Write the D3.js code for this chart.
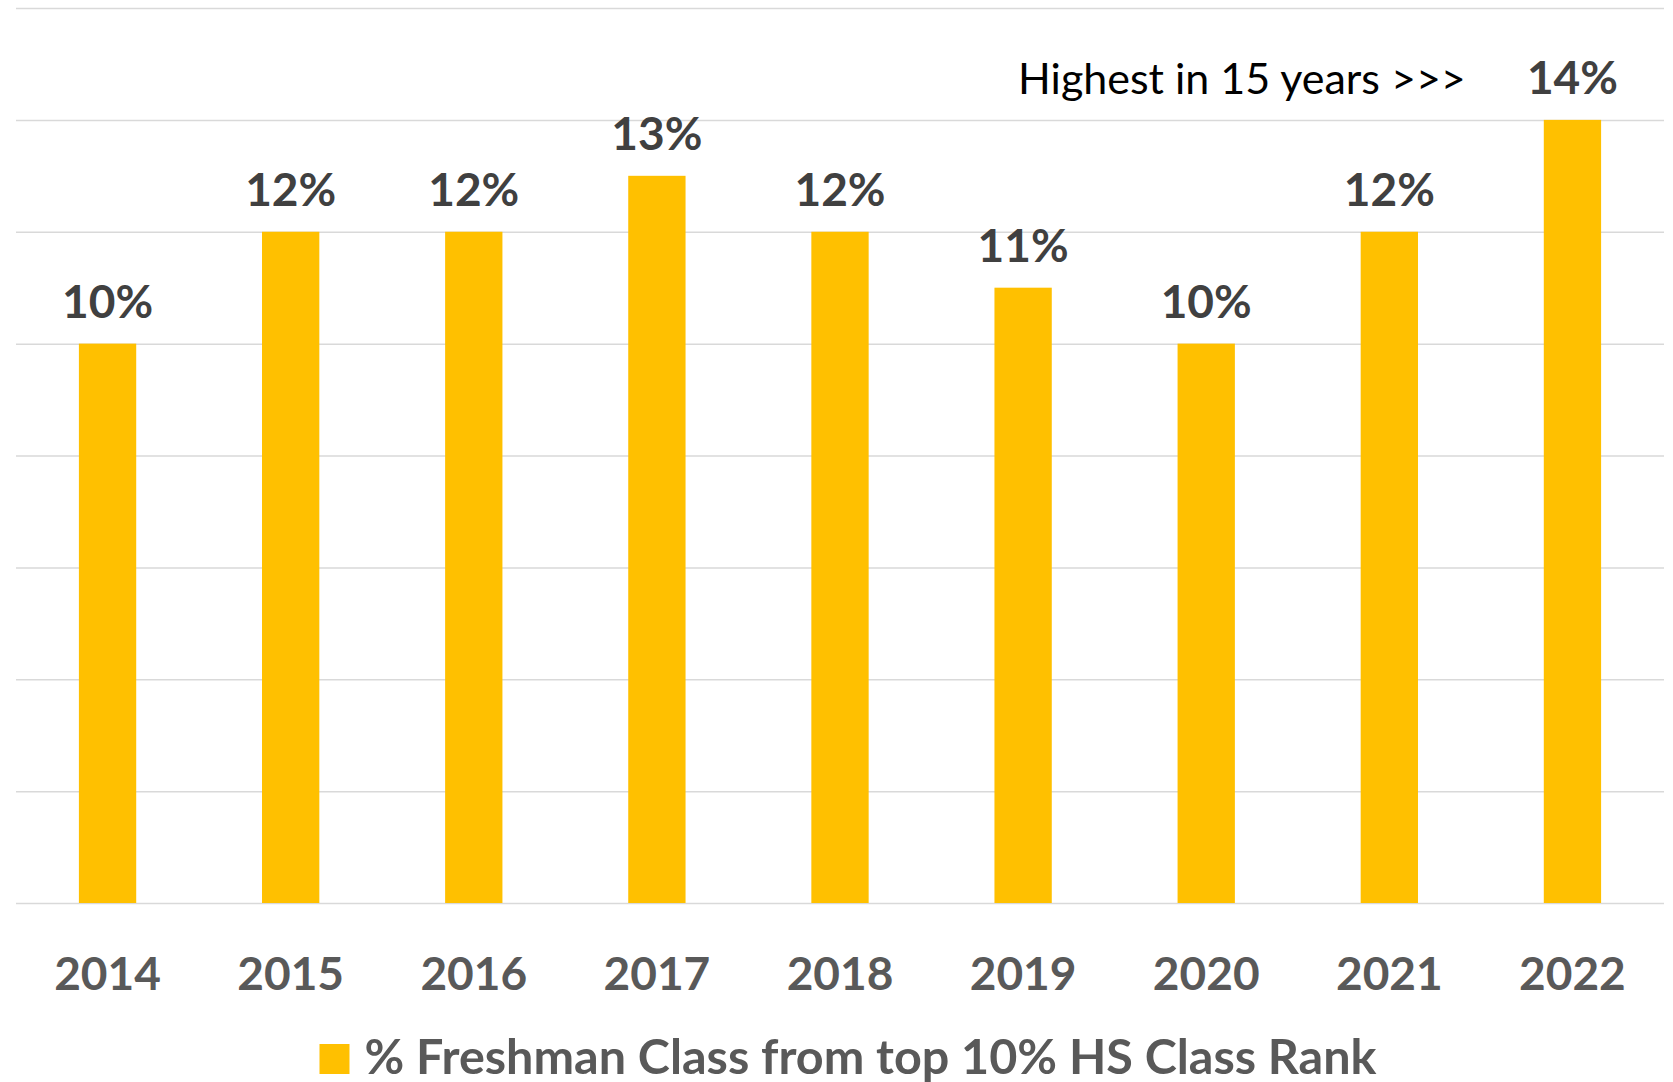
<!DOCTYPE html>
<html lang="en">
<head>
    <meta charset="UTF-8">
    <style>
        body { margin: 0; background: #fff; }
        text { font-family: Lato, "Open Sans", sans-serif; }
        .grid line { stroke: #d9d9d9; stroke-width: 1.5px; }
        .grid path { display: none; }
        .bar { fill: #ffc000; }
        .value { font-weight: 700; fill: #404040; font-size: 46px; }
        .year { font-weight: 700; fill: #595959; font-size: 46px; }
        .note { fill: #000; font-size: 43px; }
        .legend text { font-weight: 700; fill: #595959; font-size: 48.5px; }
    </style>
</head>
<body>
    <svg width="1673" height="1082"></svg>
    <script src="https://d3js.org/d3.v7.min.js"></script>
    <script>
        var years = ["2014", "2015", "2016", "2017", "2018", "2019", "2020", "2021", "2022"];
        var pctTop10 = [10, 12, 12, 13, 12, 11, 10, 12, 14];
        var gridTicks = [0, 2, 4, 6, 8, 10, 12, 14, 16];
        var seriesName = "% Freshman Class from top 10% HS Class Rank";
        var noteText = "Highest in 15 years >>>";

        var data = years.map(function(y, i) { return {year: y, value: pctTop10[i]}; });

        var svg = d3.select("svg"),
            plotLeft = 16, plotRight = 1664, plotTop = 8, plotBottom = 903;

        var x = d3.scaleBand()
            .domain(years)
            .range([plotLeft, plotRight])
            .paddingInner(0.687)
            .paddingOuter(0.3435);

        var y = d3.scaleLinear().domain([0, 16]).range([plotBottom, plotTop]);

        // horizontal gridlines only
        svg.append("g")
            .attr("class", "grid")
            .attr("transform", "translate(" + plotLeft + ",0)")
            .call(d3.axisLeft(y).tickValues(gridTicks).tickSize(-(plotRight - plotLeft)).tickFormat(""));

        svg.selectAll(".bar")
            .data(data)
            .enter().append("rect")
            .attr("class", "bar")
            .attr("x", function(d) { return x(d.year); })
            .attr("width", x.bandwidth())
            .attr("y", function(d) { return y(d.value); })
            .attr("height", function(d) { return y(0) - y(d.value); });

        svg.selectAll(".value")
            .data(data)
            .enter().append("text")
            .attr("class", "value")
            .attr("text-anchor", "middle")
            .attr("x", function(d) { return x(d.year) + x.bandwidth() / 2; })
            .attr("y", function(d) { return y(d.value) - 26; })
            .text(function(d) { return d.value + "%"; });

        svg.selectAll(".year")
            .data(years)
            .enter().append("text")
            .attr("class", "year")
            .attr("text-anchor", "middle")
            .attr("x", function(d) { return x(d) + x.bandwidth() / 2; })
            .attr("y", plotBottom + 87)
            .text(function(d) { return d; });

        var last = years[years.length - 1];
        svg.append("text")
            .attr("class", "note")
            .attr("text-anchor", "end")
            .attr("x", x(last) - 78)
            .attr("y", y(pctTop10[pctTop10.length - 1]) - 26)
            .text(noteText);

        // legend
        var legend = svg.append("g").attr("class", "legend");
        legend.append("rect")
            .attr("width", 30).attr("height", 30)
            .attr("y", 1044)
            .attr("fill", "#ffc000");
        var lt = legend.append("text")
            .attr("x", 45)
            .attr("y", 1074)
            .text(seriesName);
        var lw = 45 + lt.node().getComputedTextLength();
        legend.attr("transform", "translate(" + (848 - lw / 2) + ",0)");
    </script>
</body>
</html>
